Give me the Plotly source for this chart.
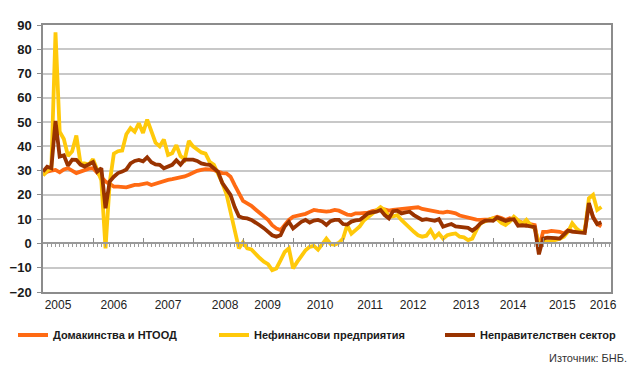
import plotly.graph_objects as go

# monthly index, Jan 2005 .. Mar 2016
months = list(range(135))

households = [28.5, 29.6, 30, 30.3, 29.3, 30.5, 31, 30, 29, 29.6, 30.3, 30.8,
              31, 29, 27.5, 25.5, 24.5, 23.4, 23.4, 23.4, 23.1, 23.6, 24.1, 24.1,
              24.6, 24.8, 24.1, 24.6, 25.5, 26, 26.2, 26.5, 26.9, 26.9, 27.6, 28.3,
              29.3, 29.9, 30.3, 30.6, 30.5, 30.3, 29.6, 29, 28.9, 27.5, 24, 20.5,
              17.5, 16.5, 15.5, 14, 12.5, 11, 9.7, 7.5, 6.2, 5.5, 7.5, 9.7,
              11, 11.3, 11.7, 12.2, 13, 13.8, 13.5, 13.1, 13.1, 13.3, 13.8, 13.5,
              12.7, 11.9, 11.7, 12.4, 12.4, 12.5, 12.7, 13.3, 13.8, 13.9, 14, 13.5,
              13.8, 14, 14, 14.2, 14.5, 14.7, 14.9, 14.2, 13.8, 13.5, 13.3, 12.9,
              12.7, 13.1, 12.8, 12.4, 11.5, 11, 10.6, 10.2, 9.8, 9.7, 9.7, 9.9,
              10.4, 11, 10.5, 9.7, 10.4, 9.7, 9, 8.6, 8.3, 8, 7.6, -2,
              4.8, 4.8, 5.2, 5, 4.8, 4.1, 5.5, 5, 4.8, 4.8, 5, 16,
              11, 8, 7]

corporates = [28, 30, 31, 87, 46, 43, 36, 38, 44.5, 33, 33, 32.5,
              34.7, 30, 26, -2, 25, 37, 38, 38.3, 45, 47.5, 46, 49.5,
              45.5, 51, 46.5, 41.5, 40, 42.8, 36.5, 37.2, 40.5, 36, 34.6, 42.2,
              40, 38.8, 37.5, 37, 33.6, 32.4, 29, 25, 20.5, 12.5, 5, -2,
              0.5, -2, -2.5, -4.5, -6, -7.5, -8.5, -11, -10.3, -7, -3.5, -2,
              -10.3, -7.6, -5.5, -2.8, -1.4, -1, -2.6, 0, 2, -0.2, -0.5, 0.3,
              2, 7.6, 4, 5.5, 7, 9.5, 11, 12.4, 13.5, 15, 13.8, 11,
              11.2, 11.7, 9.7, 8, 6.2, 4.8, 3.4, 2.8, 3.2, 5.5, 2.5, 4.1,
              2, 3.4, 3.8, 4.1, 2.8, 2.5, 1.4, 2, 5.5, 8.3, 9, 9.7,
              10.4, 10, 8.5, 7.6, 9, 11, 9.5, 8, 9.7, 7.6, 6.2, 0,
              1.4, 0.7, 1, 1.4, 2, 2.8, 4.8, 8.3, 6.2, 4.8, 5, 18.6,
              20, 13.8, 15]

nongov = [29.6, 31.6, 31, 50.5, 35.8, 36.3, 32, 34.5, 34.4, 32.5, 31.7, 32.5,
          33.5, 29.6, 31, 14.5, 25.5, 27.5, 29, 29.6, 30.5, 33, 34, 34.4,
          33.8, 35.5, 33.5, 32.6, 32.4, 31, 31.5, 32.4, 34.3, 32.5, 34.5, 34.5,
          34.5, 34, 33, 32.6, 32.4, 31, 29.5, 25, 22.5, 20, 15, 11.2,
          10.5, 10.3, 9.7, 8.8, 7.5, 6.3, 4.8, 3.4, 2.8, 3.4, 7, 8.9,
          6.2, 7.5, 8.9, 9.7, 8.6, 9.4, 9.7, 9, 7.6, 9.2, 9.7, 9.7,
          8, 7.8, 9, 9.5, 9.7, 11, 12.4, 12.8, 13.1, 13.8, 11.7, 10.3,
          13.3, 13.5, 12.4, 12.8, 13.1, 11.7, 10.7, 9.7, 10, 9.7, 9.3, 10,
          6.9, 7.5, 8, 7, 6.7, 6.5, 6.4, 5.3, 6.5, 8.3, 9.3, 9.5,
          9.3, 10.7, 9.8, 9.3, 9.8, 10, 7.3, 7.5, 7.3, 7, 6.7, -4.5,
          2, 2.4, 2.4, 2.2, 2, 3.5, 5.3, 4.9, 4.7, 4.5, 4.3, 16.7,
          10.7, 8, 8.7]

series_names = ["Домакинства и НТООД", "Нефинансови предприятия", "Неправителствен сектор"]
series_colors = ["#FF6A13", "#FFC90A", "#993300"]

year_labels = ["2005", "2006", "2007", "2008", "2009", "2010",
               "2011", "2012", "2013", "2014", "2015", "2016"]
year_label_pos = [3.6, 17.0, 30.0, 43.7, 53.9, 66.5, 78.5, 88.8, 101.5, 112.8, 124.6, 134.4]

FONT = "Liberation Sans, Arial, sans-serif"

fig = go.Figure()
legend_ids = ["legend", "legend2", "legend3"]
for vals, name, col, lg in zip([households, corporates, nongov], series_names, series_colors, legend_ids):
    fig.add_trace(go.Scatter(x=months, y=vals, mode="lines", name=name,
                             line=dict(color=col, width=3.8), legend=lg))

# helper trace for the zero-line axis
fig.add_trace(go.Scatter(x=[], y=[], xaxis="x2", yaxis="y", showlegend=False, hoverinfo="skip"))

# the page body has an 8px margin, so the figure is 8px smaller and shifted
xr = [0, 136.3]
fig.update_layout(
    width=627, height=362,
    margin=dict(l=35, r=24, t=17, b=78, autoexpand=False),
    paper_bgcolor="white", plot_bgcolor="white",
    font=dict(family=FONT, color="#1a1a1a"),
    xaxis=dict(range=xr, showgrid=False, zeroline=False,
               showline=True, mirror=True, linecolor="#8c8c8c", linewidth=1.5,
               tickmode="array", tickvals=year_label_pos, ticktext=year_labels,
               ticks="", tickfont=dict(size=12, color="#222", family=FONT),
               ticklabelstandoff=1),
    xaxis2=dict(range=xr, overlaying="x", anchor="free", position=20/110,
                showgrid=False, zeroline=False, showticklabels=False,
                showline=True, linecolor="#9a9a9a", linewidth=1.5,
                tickmode="linear", tick0=0, dtick=12,
                ticks="inside", ticklen=5, tickwidth=1.2, tickcolor="#8c8c8c",
                minor=dict(ticks="outside", dtick=1, ticklen=3, tickwidth=1, tickcolor="#9a9a9a")),
    yaxis=dict(range=[-20, 90], dtick=10, tick0=0,
               showgrid=True, gridcolor="#c8c8c8", gridwidth=1.5, zeroline=False,
               showline=True, mirror=True, linecolor="#8c8c8c", linewidth=1.5,
               ticks="outside", ticklen=4, tickcolor="#8c8c8c",
               tickfont=dict(size=13, color="#1a1a1a", family=FONT, weight="bold"),
               ticklabelstandoff=3),
    showlegend=True,
)

leg_common = dict(orientation="h", yanchor="middle", xanchor="left", y=(292 - 335) / 267,
                  bgcolor="rgba(0,0,0,0)", borderwidth=0,
                  font=dict(size=11, color="#1a1a1a", family=FONT, weight="bold"))
fig.update_layout(
    legend=dict(x=(13 - 43) / 568, **leg_common),
    legend2=dict(x=(214 - 43) / 568, **leg_common),
    legend3=dict(x=(440 - 43) / 568, **leg_common),
)

fig.add_annotation(text="Източник: БНБ.", xref="paper", yref="paper",
                   x=(629 - 43) / 568, y=(292 - 358) / 267, xanchor="right", yanchor="middle",
                   showarrow=False, font=dict(size=11, color="#333", family=FONT))

fig.write_html("out.html")
